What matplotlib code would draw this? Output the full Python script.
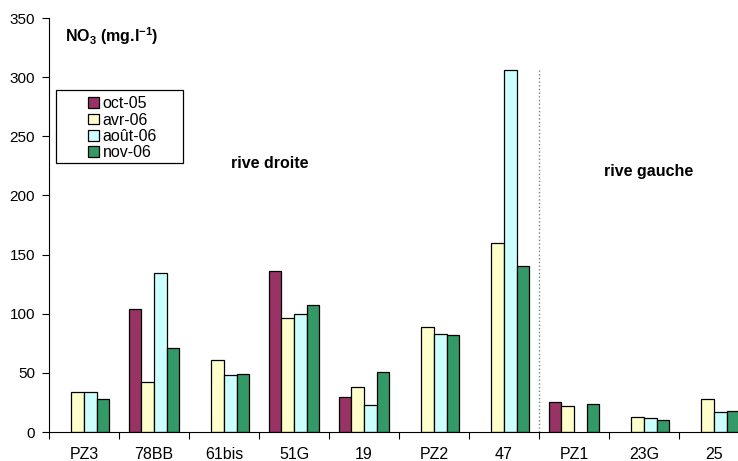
import matplotlib.pyplot as plt
import numpy as np
from matplotlib.patches import Rectangle

plt.rcParams['font.family'] = ['Liberation Sans', 'DejaVu Sans']
plt.rcParams['mathtext.fontset'] = 'custom'
plt.rcParams['mathtext.rm'] = 'Liberation Sans'
plt.rcParams['mathtext.bf'] = 'Liberation Sans:bold'

# Sampling points and NO3 values per campaign (None = not measured)
sites = ['PZ3', '78BB', '61bis', '51G', '19', 'PZ2', '47', 'PZ1', '23G', '25']
oct05 = [None, 104, None, 136, 30, None, None, 25, None, None]
avr06 = [34, 42, 61, 96, 38, 89, 160, 22, 12.5, 28]
aout06 = [34, 134, 48, 100, 23, 83, 306, None, 11.5, 17]
nov06 = [28, 71, 49, 107, 50.5, 82, 140, 24, 10, 18]

series = [('oct-05', oct05, '#993366'),
          ('avr-06', avr06, '#FFFFCC'),
          ('août-06', aout06, '#CCFFFF'),
          ('nov-06', nov06, '#339966')]

fig = plt.figure(figsize=(7.38, 4.61), dpi=100)
ax = fig.add_axes([49 / 738, 29 / 461, 700 / 738, 414 / 461])

x = np.arange(len(sites))
width = 0.182
for i, (label, vals, color) in enumerate(series):
    v = np.array([np.nan if a is None else a for a in vals], dtype=float)
    ax.bar(x + (i - 1.5) * width, v, width, color=color, edgecolor='black',
           linewidth=0.9, label=label)

ax.set_xlim(-0.5, len(sites) - 0.5)
ax.set_ylim(0, 350)
ax.set_yticks(range(0, 351, 50))
ax.set_xticks(x)
ax.set_xticklabels(sites)
ax.set_xticks(np.arange(-0.5, len(sites), 1), minor=True)
ax.tick_params(axis='x', which='major', length=0, labelsize=11.5, pad=11)
ax.tick_params(axis='x', which='minor', length=5, direction='out', width=0.8)
ax.tick_params(axis='y', length=5, direction='out', labelsize=11, width=0.8, pad=5)
for s in ['top', 'right']:
    ax.spines[s].set_visible(False)

# separation between the two banks
ax.plot([6.5, 6.5], [0, 308], color='grey', linestyle=':', linewidth=1)

ax.text(0.023, 0.955, r'$\mathbf{NO_3}$ (mg.l$^{\mathbf{-1}}$)', transform=ax.transAxes,
        fontsize=11.5, fontweight='bold', va='center', ha='left')
ax.text(2.66, 227, 'rive droite', fontsize=11.5, fontweight='bold', ha='center', va='center')
ax.text(8.07, 220, 'rive gauche', fontsize=11.5, fontweight='bold', ha='center', va='center')

# legend with a manual frame
ax.add_patch(Rectangle((0.01, 0.649), 0.181, 0.177, transform=ax.transAxes,
                       facecolor='white', edgecolor='black', linewidth=0.9, zorder=3))
leg = ax.legend(loc='upper left', bbox_to_anchor=(0.04, 0.838), frameon=False,
                fontsize=11.5, handlelength=0.65, handleheight=0.65,
                handletextpad=0.25, labelspacing=0.08, borderpad=0.2)
leg.set_zorder(4)

fig.savefig('out.png', dpi=100)
